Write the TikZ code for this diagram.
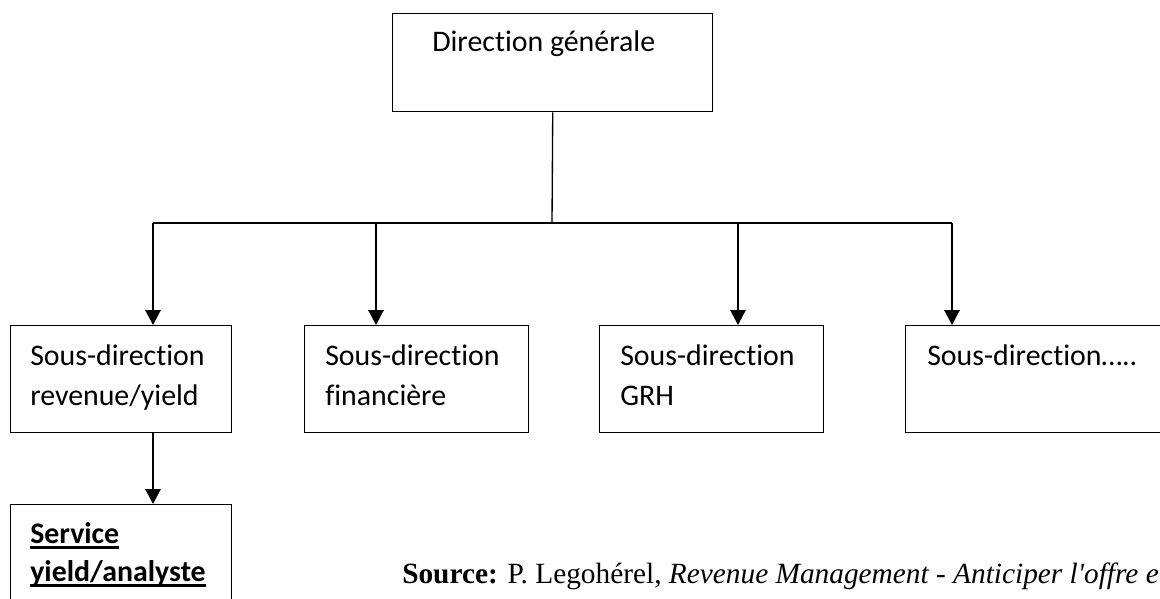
\documentclass[tikz,border=0pt]{standalone}
\usepackage{fontspec}
\setmainfont{Carlito}[Ligatures=NoCommon]
\newfontfamily\srcfont{Liberation Serif}
\usepackage{tikz}
\usetikzlibrary{arrows.meta, positioning, calc}

\newcommand{\pxu}{0.75pt}
\newcommand{\undl}[1]{\leavevmode\setbox0=\hbox{#1}\rlap{\rule[-0.19em]{\wd0}{0.075em}}\box0}

\begin{document}
\begin{tikzpicture}[x=0.75pt, y=-0.75pt,
    box/.style={rectangle, draw, line width=1.1pt, anchor=north west, inner sep=0pt},
    label/.style={anchor=base west, inner sep=0pt, align=left, font=\fontsize{22.4}{30}\selectfont},
    line/.style={draw, line width=1.5pt, -{Triangle[length=11.25pt, width=11.5pt]}}]

    \useasboundingbox (0,0) rectangle (1160,599);
    \clip (0,0) rectangle (1160,599);

    % boxes
    \node [box, minimum width=320*\pxu, minimum height=98*\pxu] (dg) at (392,13) {};
    \node [box, minimum width=221*\pxu, minimum height=107*\pxu] (sd1) at (10,325) {};
    \node [box, minimum width=224*\pxu, minimum height=107*\pxu] (sd2) at (304,325) {};
    \node [box, minimum width=224*\pxu, minimum height=107*\pxu] (sd3) at (599,325) {};
    \node [box, minimum width=270*\pxu, minimum height=107*\pxu] (sd4) at (905,325) {};
    \node [box, minimum width=221*\pxu, minimum height=110*\pxu] (svc) at (10,504) {};

    % texts (base = last line)
    \node [label] (dg-t) at ($(dg.north west)+(40,39)$) {Direction générale};
    \node [label] (sd1-t) at ($(sd1.north west)+(20,80)$) {Sous-direction\\revenue/yield};
    \node [label] (sd2-t) at ($(sd2.north west)+(21,80)$) {Sous-direction\\financière};
    \node [label] (sd3-t) at ($(sd3.north west)+(21,80)$) {Sous-direction\\GRH};
    \node [label] (sd4-t) at ($(sd4.north west)+(22,40)$) {Sous-direction…..};
    \node [label, font=\fontsize{22.4}{28.5}\selectfont\bfseries] (svc-t) at ($(svc.north west)+(20,77)$) {\undl{Service}\\\undl{yield/analyste}};

    \node [anchor=base west, inner sep=0pt, font=\srcfont\fontsize{22}{26}\selectfont] (src) at (402,583)
        {\textbf{Source:} P. Legohérel, \textit{Revenue Management - Anticiper l'offre et la demande}};

    % connectors
    \coordinate (bus) at (552,223);
    \coordinate (j1) at (153,223);
    \coordinate (j2) at (376,223);
    \coordinate (j3) at (738,223);
    \coordinate (j4) at (952,223);
    \draw [line width=1pt] (dg.south) -- (bus);
    \draw [line width=1.5pt] (j1) -- (j4);
    \path [line] (j1) -- (j1 |- sd1.north);
    \path [line] (j2) -- (j2 |- sd2.north);
    \path [line] (j3) -- (j3 |- sd3.north);
    \path [line] (j4) -- (j4 |- sd4.north);
    \path [line] (j1 |- sd1.south) -- (j1 |- svc.north);

\end{tikzpicture}
\end{document}
